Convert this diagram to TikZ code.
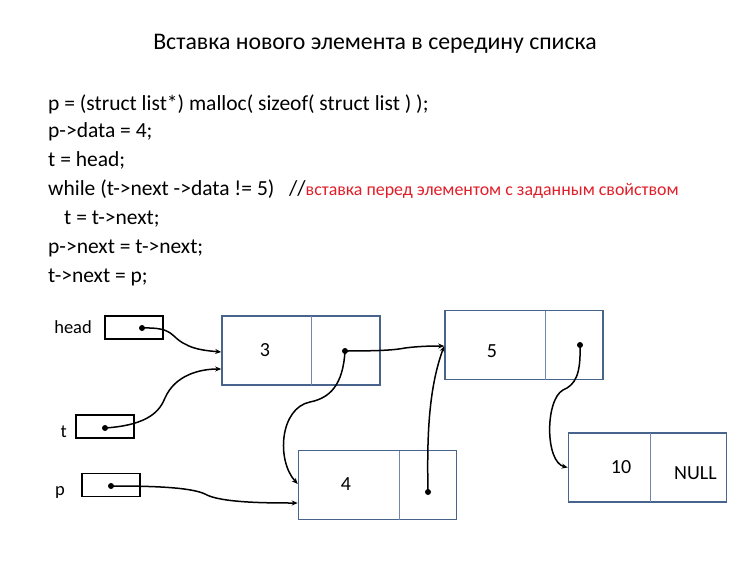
\documentclass[tikz,border=0pt]{standalone}
\usepackage{fontspec}
\setmainfont{Carlito}
\usetikzlibrary{arrows.meta}
\definecolor{boxblue}{RGB}{72,100,140}
\definecolor{divblue}{RGB}{110,135,170}
\definecolor{cred}{RGB}{225,30,40}
\begin{document}
\begin{tikzpicture}[x=1pt,y=-1pt,
  listbox/.style={draw=boxblue,line width=1.6pt,minimum width=158pt,minimum height=69pt,inner sep=0pt},
  divider/.style={draw=divblue,line width=0.9pt},
  ptrbox/.style={draw=black,line width=1.8pt,minimum width=58pt,minimum height=23pt,inner sep=0pt},
  lbl/.style={font=\fontsize{18.5}{20}\selectfont,inner sep=0pt},
  val/.style={font=\fontsize{20}{22}\selectfont,inner sep=0pt},
  code/.style={font=\fontsize{21.5}{24}\selectfont,anchor=base west,inner sep=0pt},
  link/.style={line width=1.5pt,-{Stealth[length=6pt,width=5pt]}},
  dot/.style={fill=black}]
\useasboundingbox (0,0) rectangle (750,562);
\node[font=\fontsize{23.8}{28}\selectfont] (title) at (375,44) {Вставка нового элемента в середину списка};
\node[code] (c1) at (48,110) {p = (struct list*) malloc( sizeof( struct list ) );};
\node[code] (c2) at (48,137) {p->data = 4;};
\node[code] (c3) at (48,166) {t = head;};
\node[code] (c4) at (48,195) {while (t->next ->data != 5) \ \ //\textcolor{cred}{\fontsize{17.9}{20}\selectfont вставка перед элементом с заданным свойством}};
\node[code] (c5) at (64,224) {t = t->next;};
\node[code] (c6) at (48,253) {p->next = t->next;};
\node[code] (c7) at (48,282) {t->next = p;};
% pointer variables
\node[lbl,anchor=east] (lhead) at (92,327) {head};
\node[ptrbox] (head) at (134,327.5) {};
\node[lbl,anchor=east] (lt) at (67,432) {t};
\node[ptrbox] (t) at (105,426.5) {};
\node[lbl,anchor=east] (lp) at (65,492) {p};
\node[ptrbox] (p) at (111,485) {};
% list nodes
\node[listbox] (n3) at (301,350.5) {};
\draw[divider] (311,316) -- (311,385);
\node[val] (v3) at (265,350) {3};
\node[listbox] (n5) at (524,345) {};
\draw[divider] (545,310.5) -- (545,379.5);
\node[val] (v5) at (492,351) {5};
\node[listbox] (n4) at (377.5,485) {};
\draw[divider] (399,450.5) -- (399,519.5);
\node[val] (v4) at (346,484) {4};
\node[listbox] (n10) at (647.5,467.5) {};
\draw[divider] (650,433) -- (650,502);
\node[val] (v10) at (621,467) {10};
\node[val] (vnull) at (695.5,473) {NULL};
% dots
\coordinate (dh) at (142,328);
\coordinate (dt) at (105,428);
\coordinate (dp) at (111,486);
\coordinate (d3) at (345,351);
\coordinate (d4) at (428,492);
\coordinate (d5) at (580,345);
\coordinate (a3a) at ([yshift=-1.5pt]n3.west);
\coordinate (a3b) at ([yshift=-18.5pt]n3.west);
\coordinate (a5) at ([yshift=-1pt]n5.west);
\coordinate (a4a) at ([yshift=1pt]n4.west);
\coordinate (a4b) at ([yshift=-18pt]n4.west);
\coordinate (a10) at ([yshift=0pt]n10.west);
\foreach \d in {dh,dt,dp,d3,d4,d5} \fill[dot] (\d) circle (3pt);
% links
\draw[link] (dh) .. controls (175,327) and (170,337) .. (185,344) .. controls (195,350) and (210,351) .. (a3a);
\draw[link] (dt) .. controls (150,425) and (160,410) .. (165,398) .. controls (175,375) and (200,369) .. (a3b);
\draw[link] (dp) .. controls (150,486) and (190,487) .. (205,494) .. controls (220,503) and (270,503) .. (a4b);
\draw[link] (d3) .. controls (380,351) and (395,350) .. (405,348) .. controls (420,346) and (435,346) .. (a5);
\draw[link] (d3) .. controls (343,385) and (330,398) .. (310,402) .. controls (280,408) and (276,460) .. (a4a);
\draw[link] (d4) .. controls (427,440) and (428,390) .. (a5);
\draw[link] (d5) .. controls (581,375) and (575,385) .. (563,390) .. controls (545,400) and (545,462) .. (a10);
\end{tikzpicture}
\end{document}
